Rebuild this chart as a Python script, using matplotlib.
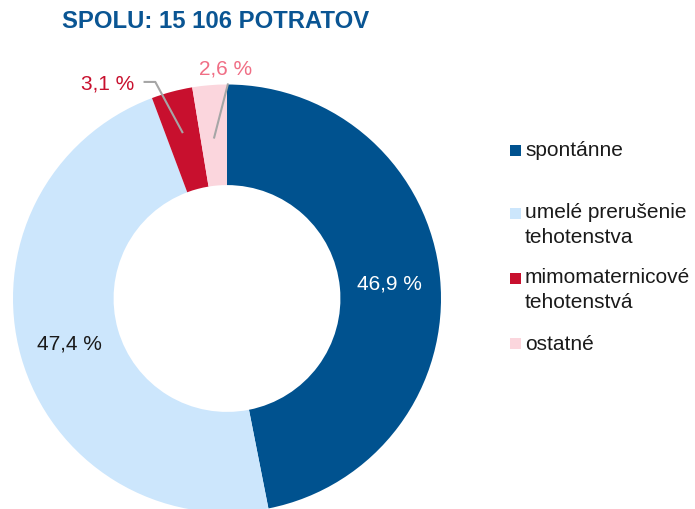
import numpy as np
import matplotlib
matplotlib.use("Agg")
import matplotlib.pyplot as plt
from matplotlib.patches import Rectangle

plt.rcParams['font.family'] = ['Liberation Sans', 'DejaVu Sans']

title = "SPOLU: 15 106 POTRATOV"
categories = ["spontánne", "umelé prerušenie\ntehotenstva", "mimomaternicové\ntehotenstvá", "ostatné"]
values = [46.9, 47.4, 3.1, 2.6]
value_labels = ["46,9 %", "47,4 %", "3,1 %", "2,6 %"]
colors = ["#00528F", "#CCE6FC", "#C8102E", "#FBD6DD"]
label_colors = ["white", "#1a1a1a", "#C8102E", "#F06E85"]

W, H = 695, 510
fig = plt.figure(figsize=(W / 100, H / 100), dpi=100)

cx, cy, R = 227, 299.5, 214  # pixel centre and radius
half = 232
ax = fig.add_axes([(cx - half) / W, (H - cy - half) / H, 2 * half / W, 2 * half / H])

wedges, _ = ax.pie(values, colors=colors, startangle=90, counterclock=False,
                   radius=1.0, wedgeprops=dict(width=0.47, linewidth=0))
lim = half / R
ax.set_xlim(-lim, lim)
ax.set_ylim(-lim, lim)
ax.set_aspect('equal')
ax.axis('off')

mids = [np.deg2rad((w.theta1 + w.theta2) / 2) for w in wedges]

# inside labels for the big slices
for i in (0, 1):
    a = mids[i]
    r = 0.765
    ax.text(r * np.cos(a), r * np.sin(a), value_labels[i], ha='center', va='center',
            fontsize=15, color=label_colors[i])

# outside labels with leader lines
line_col = "#A6A6A6"
a = mids[2]
r0 = 0.80
ax.plot([r0 * np.cos(a), -0.335, -0.39], [r0 * np.sin(a), 1.012, 1.012],
        color=line_col, lw=1.5, solid_capstyle='butt')
ax.text(-0.56, 1.008, value_labels[2], ha='center', va='center', fontsize=15, color=label_colors[2])

a = mids[3]
r0 = 0.75
ax.plot([r0 * np.cos(a), 0.005], [r0 * np.sin(a), 1.005], color=line_col, lw=1.5,
        solid_capstyle='butt')
ax.text(-0.005, 1.077, value_labels[3], ha='center', va='center', fontsize=15, color=label_colors[3])

# title
fig.text(216 / W, 1 - 22 / H, title, ha='center', va='center', fontsize=17.2,
         fontweight='bold', color="#0A5593")

# legend
leg_y = [151, 214, 279, 344]
for lab, col, y in zip(categories, colors, leg_y):
    fig.patches.append(Rectangle((510 / W, 1 - (y + 5.5) / H), 11 / W, 11 / H,
                                 transform=fig.transFigure, facecolor=col, edgecolor='none'))
    if '\n' in lab:
        fig.text(525 / W, 1 - (y - 11) / H, lab, ha='left', va='top', fontsize=15,
                 color="#1a1a1a", linespacing=1.4)
    else:
        fig.text(525 / W, 1 - y / H, lab, ha='left', va='center', fontsize=15, color="#1a1a1a")

fig.savefig("out.png", dpi=100, facecolor='white')
